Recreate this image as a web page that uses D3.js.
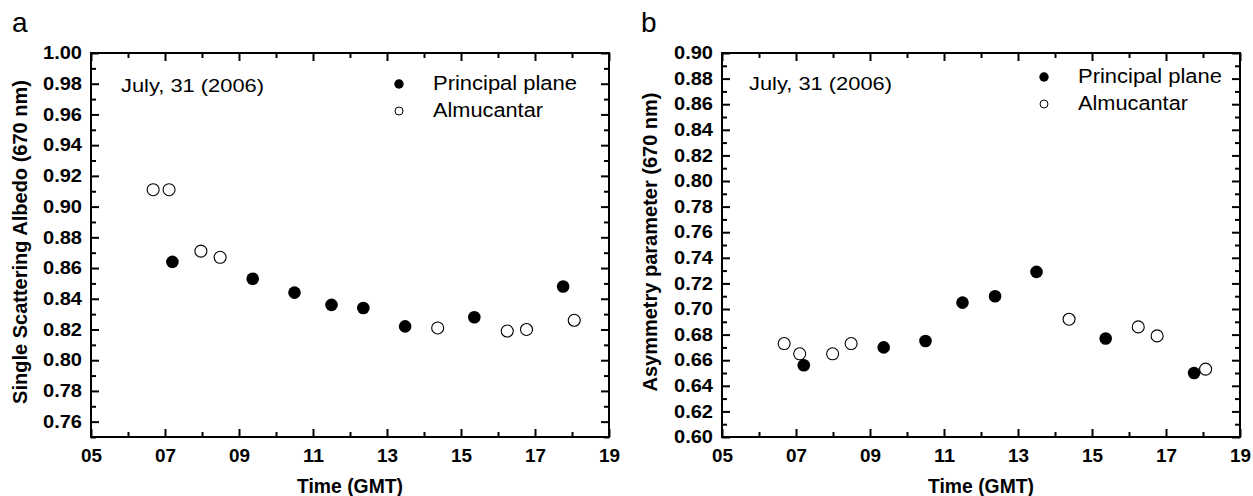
<!DOCTYPE html>
<html>
<head>
<meta charset="utf-8">
<script src="https://cdn.jsdelivr.net/npm/d3@7"></script>
<style>
  body { margin: 0; background: #fff; }
  text { font-family: "Liberation Sans", Arial, sans-serif; fill: #000; }
</style>
</head>
<body>
<script>
const width = 1253,
  height = 496;

// x ticks (hours GMT)
const hourTicks = [5, 7, 9, 11, 13, 15, 17, 19];
const hourMinor = [6, 8, 10, 12, 14, 16, 18];

// panel a: single scattering albedo (670 nm)
const ppTimeA = [7.2, 9.37, 10.5, 11.5, 12.36, 13.49, 15.36, 17.76];
const ppSsaA = [0.864, 0.853, 0.844, 0.836, 0.834, 0.822, 0.828, 0.848];
const almTimeA = [6.68, 7.11, 7.97, 8.49, 14.37, 16.25, 16.77, 18.06];
const almSsaA = [0.911, 0.911, 0.871, 0.867, 0.821, 0.819, 0.820, 0.826];

// panel b: asymmetry parameter (670 nm)
const ppTimeB = [7.21, 9.37, 10.5, 11.5, 12.38, 13.5, 15.37, 17.76];
const ppAsyB = [0.656, 0.670, 0.675, 0.705, 0.710, 0.729, 0.677, 0.650];
const almTimeB = [6.68, 7.1, 7.99, 8.49, 14.38, 16.25, 16.76, 18.07];
const almAsyB = [0.673, 0.665, 0.665, 0.673, 0.692, 0.686, 0.679, 0.653];

const legendLabels = ["Principal plane", "Almucantar"];
const dateLabel = "July, 31 (2006)";

const svg = d3.select("body").append("svg")
  .attr("width", width)
  .attr("height", height);

function range(a, b, step) {
  const out = [];
  for (let i = 0; a + i * step <= b + 1e-9; i++) out.push(+(a + i * step).toFixed(2));
  return out;
}

function makePanel(p) {
  const x = d3.scaleLinear().domain([5, 19]).range([p.left, p.right]);
  const y = d3.scaleLinear().domain(p.yDomain).range([p.bottom, p.top]);
  const yMajor = range(p.yDomain[0] + p.yOffset, p.yDomain[1], 0.02);
  const yMinor = range(p.yDomain[0] + p.yOffset + 0.01, p.yDomain[1], 0.02)
    .concat(p.yOffset > 0 ? [p.yDomain[0]] : []);

  const g = svg.append("g");

  const axes = [
    [d3.axisBottom(x), p.bottom, "x", true],
    [d3.axisTop(x), p.top, "x", false],
    [d3.axisLeft(y), p.left, "y", true],
    [d3.axisRight(y), p.right, "y", false]
  ];

  axes.forEach(([ax, pos, dim, labels]) => {
    const major = dim === "x" ? hourTicks : yMajor;
    const minor = dim === "x" ? hourMinor : yMinor;
    const tr = dim === "x" ? `translate(0,${pos})` : `translate(${pos},0)`;

    const gm = g.append("g").attr("transform", tr)
      .call(ax.tickValues(minor).tickSize(-5).tickFormat(""));
    gm.select(".domain").remove();
    gm.selectAll("line").attr("stroke", "#000").attr("stroke-width", 2);

    const gM = g.append("g").attr("transform", tr)
      .call(ax.tickValues(major).tickSize(-8)
        .tickPadding(dim === "x" ? 12 : 9)
        .tickFormat(labels ? (dim === "x" ? d3.format("02d") : d3.format(".2f")) : ""));
    gM.select(".domain").remove();
    gM.selectAll("line").attr("stroke", "#000").attr("stroke-width", 2);
    const tx = gM.selectAll("text")
      .attr("font-family", "Liberation Sans, Arial, sans-serif")
      .attr("font-weight", "bold")
      .attr("font-size", 18);
    if (dim === "y" && labels) {
      tx.attr("textLength", 39).attr("lengthAdjust", "spacingAndGlyphs");
    }
    if (dim === "x" && labels) {
      tx.attr("textLength", 21).attr("lengthAdjust", "spacingAndGlyphs");
    }
  });

  g.append("rect")
    .attr("x", p.left).attr("y", p.top)
    .attr("width", p.right - p.left).attr("height", p.bottom - p.top)
    .attr("fill", "none").attr("stroke", "#000").attr("stroke-width", 2);

  // points
  g.selectAll(".pp")
    .data(p.ppT.map((t, i) => [t, p.ppV[i]]))
    .enter().append("circle")
    .attr("cx", d => x(d[0])).attr("cy", d => y(d[1]))
    .attr("r", 6.3).attr("fill", "#000");

  g.selectAll(".alm")
    .data(p.almT.map((t, i) => [t, p.almV[i]]))
    .enter().append("circle")
    .attr("cx", d => x(d[0])).attr("cy", d => y(d[1]))
    .attr("r", 6).attr("fill", "#fff").attr("stroke", "#000").attr("stroke-width", 1.1);

  // panel letter
  g.append("text").attr("x", p.letterX).attr("y", 32)
    .attr("font-size", 28).text(p.letter);

  // date
  g.append("text").attr("x", p.dateX).attr("y", p.dateY)
    .attr("font-size", 18.5)
    .attr("textLength", 143).attr("lengthAdjust", "spacingAndGlyphs")
    .text(dateLabel);

  // legend
  g.append("circle").attr("cx", p.legX).attr("cy", p.legY)
    .attr("r", 4.7).attr("fill", "#000");
  g.append("circle").attr("cx", p.legX).attr("cy", p.legY + 27)
    .attr("r", 4).attr("fill", "#fff").attr("stroke", "#000").attr("stroke-width", 1);
  g.append("text").attr("x", p.legX + 34).attr("y", p.legY + 6)
    .attr("font-size", 19.5)
    .attr("textLength", 144).attr("lengthAdjust", "spacingAndGlyphs")
    .text(legendLabels[0]);
  g.append("text").attr("x", p.legX + 34).attr("y", p.legY + 33)
    .attr("font-size", 19.5)
    .attr("textLength", 110).attr("lengthAdjust", "spacingAndGlyphs")
    .text(legendLabels[1]);

  // axis titles
  g.append("text")
    .attr("x", (p.left + p.right) / 2).attr("y", 493)
    .attr("text-anchor", "middle")
    .attr("font-weight", "bold").attr("font-size", 19.5)
    .attr("textLength", 106).attr("lengthAdjust", "spacingAndGlyphs")
    .text("Time (GMT)");

  g.append("text")
    .attr("transform", `translate(${p.yTitleX},${(p.top + p.bottom) / 2 - 3}) rotate(-90)`)
    .attr("text-anchor", "middle")
    .attr("font-weight", "bold").attr("font-size", 20)
    .text(p.yTitle);
}

makePanel({
  left: 91, right: 609, top: 53, bottom: 437,
  yDomain: [0.75, 1.00], yOffset: 0.01,
  ppT: ppTimeA, ppV: ppSsaA, almT: almTimeA, almV: almSsaA,
  letter: "a", letterX: 12,
  dateX: 121, dateY: 92,
  legX: 399, legY: 84,
  yTitle: "Single Scattering Albedo (670 nm)", yTitleX: 27
});

makePanel({
  left: 722, right: 1240, top: 53, bottom: 437,
  yDomain: [0.60, 0.90], yOffset: 0,
  ppT: ppTimeB, ppV: ppAsyB, almT: almTimeB, almV: almAsyB,
  letter: "b", letterX: 641,
  dateX: 749, dateY: 90,
  legX: 1044, legY: 77,
  yTitle: "Asymmetry parameter (670 nm)", yTitleX: 657
});
</script>
</body>
</html>
